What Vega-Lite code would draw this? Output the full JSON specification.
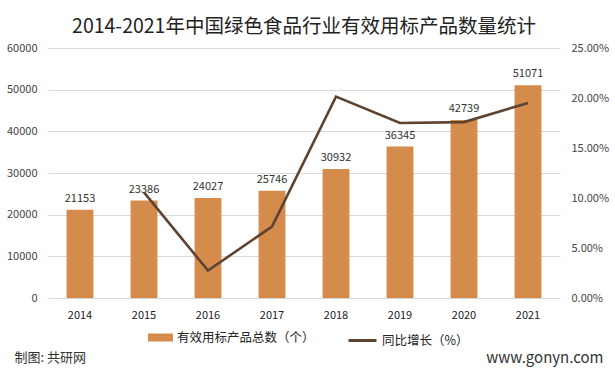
{
  "$schema": "https://vega.github.io/schema/vega-lite/v6.json",
  "autosize": {"type": "none"},
  "width": 512,
  "height": 250,
  "padding": {"left": 48, "top": 48, "right": 55, "bottom": 72},
  "background": "white",
  "config": {
    "view": {"stroke": null},
    "font": "Noto Sans CJK SC",
    "axis": {"labelFont": "Noto Sans CJK SC", "titleFont": "Noto Sans CJK SC"},
    "legend": {"labelFont": "Noto Sans CJK SC"}
  },
  "title": {
    "text": "2014-2021年中国绿色食品行业有效用标产品数量统计",
    "fontSize": 19.5,
    "fontWeight": "normal",
    "color": "#222222",
    "anchor": "middle",
    "offset": 5
  },
  "data": {
    "values": [
      {"year": "2014", "count": 21153, "growth": null},
      {"year": "2015", "count": 23386, "growth": 0.1056},
      {"year": "2016", "count": 24027, "growth": 0.0274},
      {"year": "2017", "count": 25746, "growth": 0.0715},
      {"year": "2018", "count": 30932, "growth": 0.2014},
      {"year": "2019", "count": 36345, "growth": 0.1750},
      {"year": "2020", "count": 42739, "growth": 0.1759},
      {"year": "2021", "count": 51071, "growth": 0.1950}
    ]
  },
  "encoding": {
    "x": {
      "field": "year",
      "type": "ordinal",
      "scale": {"paddingInner": 0.58, "paddingOuter": 0.29},
      "axis": {
        "labelAngle": 0,
        "labelFontSize": 11,
        "labelColor": "#222222",
        "labelPadding": 11,
        "ticks": false,
        "domain": true,
        "domainColor": "#d9d9d9",
        "title": "制图: 共研网",
        "titleFontSize": 13,
        "titleFontWeight": "normal",
        "titleColor": "#333333",
        "titleAnchor": "start",
        "titleAlign": "left",
        "titleBaseline": "middle",
        "titleX": -34,
        "titleY": 59
      }
    }
  },
  "layer": [
    {
      "mark": {"type": "bar", "color": "#D58B4C"},
      "encoding": {
        "y": {
          "field": "count",
          "type": "quantitative",
          "scale": {"domain": [0, 60000]},
          "axis": {
            "values": [0, 10000, 20000, 30000, 40000, 50000, 60000],
            "format": "d",
            "labelFontSize": 11,
            "labelColor": "#444444",
            "labelPadding": 11,
            "ticks": false,
            "domain": false,
            "gridColor": "#d9d9d9",
            "title": null
          }
        },
        "fill": {
          "datum": "有效用标产品总数（个）",
          "type": "nominal",
          "scale": {"range": ["#D58B4C"]},
          "legend": {
            "title": null,
            "orient": "none",
            "legendX": 100,
            "legendY": 277,
            "symbolType": "M-1,-0.32H1V0.32H-1Z",
            "symbolSize": 625,
            "symbolStrokeWidth": 0,
            "labelFontSize": 12.5,
            "labelColor": "#222222",
            "labelOffset": 4
          }
        }
      }
    },
    {
      "mark": {"type": "text", "dy": -11, "fontSize": 11, "color": "#333333"},
      "encoding": {
        "y": {"field": "count", "type": "quantitative", "scale": {"domain": [0, 60000]}, "axis": null},
        "text": {"field": "count", "type": "quantitative", "format": "d"}
      }
    },
    {
      "mark": {"type": "line", "strokeWidth": 2.6, "color": "#5E4331"},
      "encoding": {
        "y": {
          "field": "growth",
          "type": "quantitative",
          "scale": {"domain": [0, 0.25]},
          "axis": {
            "orient": "right",
            "values": [0, 0.05, 0.1, 0.15, 0.2, 0.25],
            "format": ".2%",
            "labelFontSize": 11,
            "labelColor": "#444444",
            "labelPadding": 11,
            "ticks": false,
            "domain": false,
            "grid": false,
            "title": "www.gonyn.com",
            "titleAngle": 0,
            "titleFontSize": 15,
            "titleFontWeight": "normal",
            "titleColor": "#333333",
            "titleAlign": "right",
            "titleBaseline": "middle",
            "titleX": 43,
            "titleY": 309
          }
        },
        "stroke": {
          "datum": "同比增长（%）",
          "type": "nominal",
          "scale": {"range": ["#5E4331"]},
          "legend": {
            "title": null,
            "orient": "none",
            "legendX": 299,
            "legendY": 277,
            "symbolType": "stroke",
            "symbolSize": 784,
            "symbolStrokeWidth": 3,
            "labelFontSize": 12.5,
            "labelColor": "#222222",
            "labelOffset": 4
          }
        }
      }
    }
  ],
  "resolve": {"scale": {"y": "independent"}}
}
